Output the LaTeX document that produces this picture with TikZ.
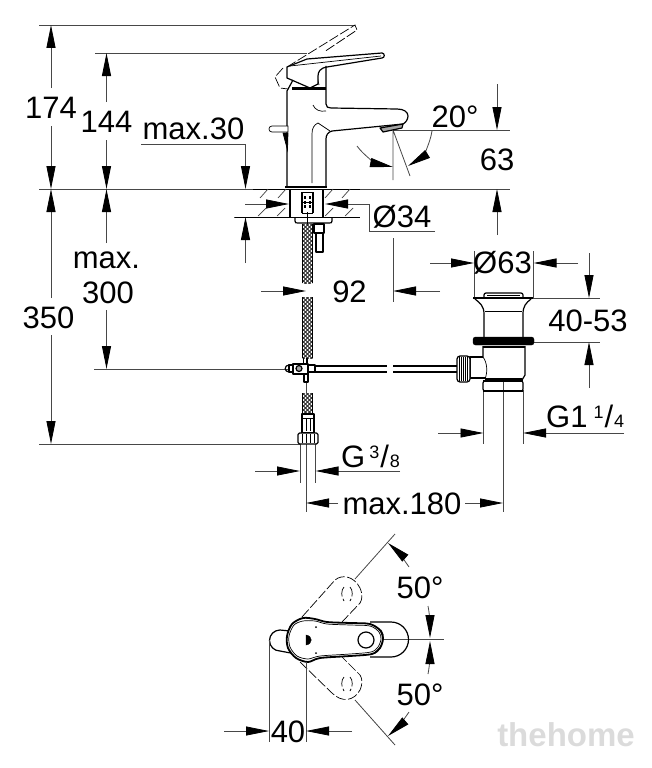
\documentclass[tikz,border=0pt]{standalone}
\usepackage{fontspec}
\setmainfont{Liberation Sans}
\usetikzlibrary{arrows.meta}
\tikzset{dim/.style={draw=black!72,line width=.8pt},dimto/.style={dim,-{Triangle[length=23pt,width=9pt,color=black]}}}
\tikzset{lab/.style={inner sep=0pt,anchor=base,font=\fontsize{31}{33}\selectfont},labw/.style={lab,anchor=base west}}
\tikzset{part/.style={draw=black,line width=1.2pt,line join=round},thn/.style={draw=black,line width=.7pt},ghost/.style={draw=black,line width=.7pt,dash pattern=on 10pt off 2.5pt}}
\tikzset{hatch/.style={draw=black!75,line width=.7pt},braid/.style={draw=black!85,line width=.9pt}}
\tikzset{wmark/.style={inner sep=0pt,font=\bfseries\fontsize{33}{34}\selectfont}}
\newcommand{\supfrac}[2]{\raisebox{9pt}{\fontsize{18}{18}\selectfont #1}\hspace{1pt}/\hspace{1pt}{\fontsize{18}{18}\selectfont #2}}
\begin{document}
\begin{tikzpicture}[x=1pt,y=-1pt]
  \useasboundingbox (0,0) rectangle (651,768);
  % long dimension lines
  \draw[dim] (39,25)--(355,25) (95,53)--(307,53) (39,189)--(510,189) (94,369)--(288,369) (39,444)--(300,444);
  \draw[dim] (393,130)--(510,130) (530,298)--(600,298) (530,342)--(600,342);
  \draw[dim] (234,217)--(262,217);
  \draw[dimto] (51,88)--(51,25);
  \draw[dimto] (51,126)--(51,189);
  \draw[dimto] (51,298)--(51,189);
  \draw[dimto] (51,335)--(51,444);
  \draw[dimto] (106.5,102)--(106.5,53);
  \draw[dimto] (106.5,140)--(106.5,189);
  \draw[dimto] (106.5,243)--(106.5,189);
  \draw[dimto] (106.5,310)--(106.5,369);
  \draw[dimto] (141,144)--(245.5,144)--(245.5,189);
  \draw[dimto] (245.5,263)--(245.5,217);
  \draw[dimto] (497,84)--(497,130);
  \draw[dimto] (497,235)--(497,189);
  \draw[dimto] (245,204)--(289,204);
  \draw[dimto] (435,231)--(369,231)--(369,204)--(325,204);
  \draw[dimto] (261,291)--(306,291);
  \draw[dimto] (440,291)--(393,291);
  \draw[dim] (393,238)--(393,302);
  \draw[dim] (474,251)--(474,298) (533.5,251)--(533.5,298);
  \draw[dimto] (430,263)--(474,263);
  \draw[dimto] (578,263)--(533.5,263);
  \draw[dimto] (589,253)--(589,298);
  \draw[dimto] (589,388)--(589,342);
  \draw[dim] (483.5,390)--(483.5,444) (523,390)--(523,444) (503,378)--(503,512);
  \draw[dimto] (438,433)--(483.5,433);
  \draw[dimto] (624,433)--(523,433);
  \draw[dim] (300,444)--(300,483) (315.5,444)--(315.5,483) (306,382)--(306,393) (306,444)--(306,512);
  \draw[dimto] (255,471)--(300,471);
  \draw[dimto] (400,471)--(315.5,471);
  \draw[dimto] (338,503)--(306,503);
  \draw[dimto] (465,503)--(503,503);
  % angle at the spout
  \draw[dim] (393,130)--(393,180) (393,130)--(410,176);
  \draw[dimto] (357,146) .. controls (364,156) and (378,164) .. (393,167);
  \draw[dimto] (432,131) .. controls (430,145) and (421,158) .. (408,166);
  % labels
  \node[lab] (l174) at (51,118) {174};
  \node[lab] (l144) at (106.5,132) {144};
  \node[lab] (lm30) at (193.5,139) {max.30};
  \node[lab] (lmax) at (106.5,268) {max.};
  \node[lab] (l300) at (108,303) {300};
  \node[lab] (l350) at (48.5,328) {350};
  \node[lab] (l20) at (455,127) {20°};
  \node[lab] (l63) at (497,170) {63};
  \node[lab] (l34) at (402,227) {Ø34};
  \node[lab] (l92) at (349.5,302) {92};
  \node[lab] (lo63) at (502.5,273) {Ø63};
  \node[lab] (l4053) at (588,331) {40-53};
  \node[labw] (lg1) at (546,427) {G1\hspace{6pt}\supfrac{1}{4}};
  \node[labw] (lg38) at (341,467) {G\hspace{4pt}\supfrac{3}{8}};
  \node[lab] (lm180) at (402,514) {max.180};
  \node[lab] (l50a) at (420,598) {50°};
  \node[lab] (l50b) at (420,705) {50°};
  \node[lab] (l40) at (288,742) {40};
  % ghost lever
  \draw[ghost] (287,67)--(355,25)--(357,30)--(324,52);
  \draw[ghost] (283,68)--(275,77)--(280,88)--(288,89);
  \draw[ghost] (303,65)--(310,85) (315,67)--(319,85);
  % tap body
  \draw[part,fill=white] (287,67)--(307,59)--(382,53) .. controls (385,53) and (385,58) .. (382,58)--(327,67) .. controls (320,68) and (318,72) .. (318,76)--(318,84)--(310,88)--(287,78)--cycle;
  \draw[thn] (290,66)--(381,56);
  \draw[line width=3pt] (292,88.5)--(326,88.5);
  \draw[part] (293,80)--(287,91)--(287,186) (326,66)--(326,104) .. controls (326,107) and (328,108) .. (331,108)--(397,109) .. controls (404,109) and (408,112) .. (408,116) .. controls (408,120) and (405,123) .. (403,124)--(332,131) .. controls (328,132) and (326,135) .. (326,139)--(326,186);
  \draw[thn] (326,111) .. controls (320,112) and (315,110) .. (313,105) (330,131)--(318,123) .. controls (314,125) and (312,128) .. (312,134)--(312,183);
  \draw[part,fill=black!35] (380,128)--(403,124)--(402,128)--(383,132)--cycle;
  \draw[thn,fill=white] (272,126)--(288,126)--(288,132)--(272,132) .. controls (268,132) and (268,126) .. (272,126);
  \draw[thn,fill=black] (283,133)--(288,133)--(287.5,150)--cycle;
  \draw[line width=2.4pt] (285,187)--(327,187);
  \draw[line width=1.4pt] (253,189.5)--(360,189.5);
  \draw[line width=1pt] (235,217)--(360,217);
  % deck hatching
  \foreach \hx in {260,278,325,342} \draw[hatch] (\hx,198)--(\hx+8,189);
  \foreach \hx in {258,277,325,345} \draw[hatch] (\hx,216)--(\hx+8,208);
  % shank below the tap
  \draw[part] (290,189)--(290,217) (323,189)--(323,217);
  \draw[part] (295,217)--(295,221) .. controls (295,223) and (296,223) .. (298,223)--(329,223) .. controls (331,223) and (332,223) .. (332,221)--(332,217);
  \draw[line width=1.8pt] (302,192)--(302,213) (313,192)--(313,213);
  \draw[thn] (302,192)--(313,192) (302,202)--(313,202) (302,213)--(313,213);
  \draw[line width=1.3pt,dash pattern=on 3pt off 1.5pt] (305,196)--(305,209) (310,196)--(310,209);
  \draw[thn] (307,212)--(307,226);
  \draw[part,fill=white] (314,224) rectangle (324,233);
  \draw[part,fill=white] (316,233) rectangle (323,252);
  % braided hose
  \foreach \ya/\yb in {224/283,297/358,393/413}{
    \begin{scope}
      \clip (302.5,\ya) rectangle (312.5,\yb);
      \foreach \yh in {-12,-8,...,72}{
        \draw[braid] (302.5,\ya+\yh)--(312.5,\ya+\yh+10);
        \draw[braid] (302.5,\ya+\yh+10)--(312.5,\ya+\yh);
      }
    \end{scope}
    \draw[part] (302.5,\ya)--(302.5,\yb) (312.5,\ya)--(312.5,\yb);
  }
  % T piece
  \draw[part] (303.5,358)--(303.5,364) (307,358)--(307,364);
  \draw[part,fill=white] (289,365) rectangle (293,372);
  \draw[part] (289,365) .. controls (284,365) and (284,372) .. (289,372);
  \draw[part,fill=white] (293,364) rectangle (308,374);
  \draw[part,fill=black!35] (299,368.5) circle[radius=3];
  \draw[part,fill=white] (308,365) rectangle (315,372);
  \draw[part,fill=white] (304,374) rectangle (308,382);
  \draw[part] (315,366)--(387,366) (315,372)--(387,372) (393,366)--(457,366) (393,372)--(457,372);
  % hose end with nut
  \draw[part,fill=white] (302,414) rectangle (314,433);
  \draw[thn] (306,418)--(306,431) (310,418)--(310,431) (302,418)--(314,418);
  \draw[part,fill=white,rounded corners=1.5pt] (298,433) rectangle (318,444);
  \foreach \nx in {302,306,310,314} \draw[thn] (\nx,434)--(\nx,443);
  % waste
  \draw[part,rounded corners=2pt] (484,298)--(484,293)--(523,293)--(523,298);
  \draw[part] (487,295.5)--(520,295.5);
  \draw[part] (473,298)--(533,298);
  \draw[part] (475,299) .. controls (480,303) and (484,306) .. (484,314)--(484,337) (531,299) .. controls (526,303) and (523,306) .. (523,314)--(523,337);
  \draw[thn] (485,311)--(522,311);
  \draw[fill=black,rounded corners=2.5pt] (473,337) rectangle (534,345);
  \draw[part] (483,346)--(483,357) (525,346)--(525,375)--(522,380);
  \draw[part] (483,347)--(525,347);
  \draw[part] (483,357)--(470,357)--(470,378)--(485,378);
  \draw[thn] (483,357) .. controls (487,362) and (488,372) .. (485,379);
  \draw[part] (485,379)--(522,379);
  \draw[part,rounded corners=2pt] (483,381) rectangle (523,391);
  \draw[line width=2pt] (483,381)--(523,381) (483,391)--(523,391);
  \draw[part,fill=white,rounded corners=3pt] (457,356) rectangle (470,382);
  \foreach \kx in {459,461,463,465,467} \draw[thn] (\kx,357)--(\kx,381);
  % top view, spout and stub
  \draw[dim] (383,639)--(444,639);
  \draw[part] (370,622)--(391,622) arc[start angle=-90,end angle=90,radius=17.5]--(370,657);
  \draw[part] (290,631)--(280,630) arc[start angle=-90,end angle=-270,radius=10.5]--(296,654);
  % swung lever, dashed
  \draw[ghost] (302,617)--(335,580) .. controls (342,574) and (354,576) .. (360,588) .. controls (363,595) and (362,600) .. (360,603)--(342,622);
  \draw[ghost] (344,587) .. controls (341,590) and (341,597) .. (344,601) (350,587) .. controls (353,590) and (353,597) .. (350,601);
  \draw[ghost] (300,662)--(332,693) .. controls (342,703) and (354,701) .. (360,690) .. controls (363,683) and (362,678) .. (360,675)--(342,657);
  \draw[ghost] (344,677) .. controls (341,680) and (341,687) .. (344,691) (350,677) .. controls (353,680) and (353,687) .. (350,691);
  % lever from above
  \draw[part,line width=1.8pt,fill=white] plot[smooth cycle] coordinates {(303,618) (315,619) (327,622) (350,623) (370,624) (381,631) (383,639) (380,648) (372,654) (350,656) (320,658) (308,662) (296,658) (288,648) (287,636) (292,624)};
  \draw[thn] (375,626) .. controls (385,632) and (385,646) .. (375,652);
  \draw[thn] plot[smooth cycle] coordinates {(303,621) (315,621) (327,624) (350,625) (370,626) (379,632) (381,639) (378,647) (371,652) (350,654) (320,656) (308,659) (297,656) (290,647) (289,636) (294,625)};
  \draw[part,fill=white] (366,640) circle[radius=8];
  \draw[fill=black] (306,635) .. controls (313,636) and (313,644) .. (306,645)--cycle;
  \fill (316,627) circle[radius=1] (316,653) circle[radius=1];
  % top view dimensions
  \draw[dim] (269,640)--(269,742) (306,662)--(306,742);
  \draw[dimto] (224,731)--(269,731);
  \draw[dimto] (352,731)--(306,731);
  \draw[dim] (355,579)--(395,534) (355,700)--(395,745);
  \draw[dimto] (409,567) .. controls (403,558) and (396,550) .. (388,543);
  \draw[dimto] (428,606) .. controls (430,616) and (430,627) .. (430,638);
  \draw[dimto] (428,674) .. controls (430,664) and (430,652) .. (430,641);
  \draw[dimto] (409,712) .. controls (403,721) and (396,729) .. (388,736);
  % watermark
  \node[wmark,text=black!14] (wmtext) at (566,735) {thehome};
\end{tikzpicture}
\end{document}
